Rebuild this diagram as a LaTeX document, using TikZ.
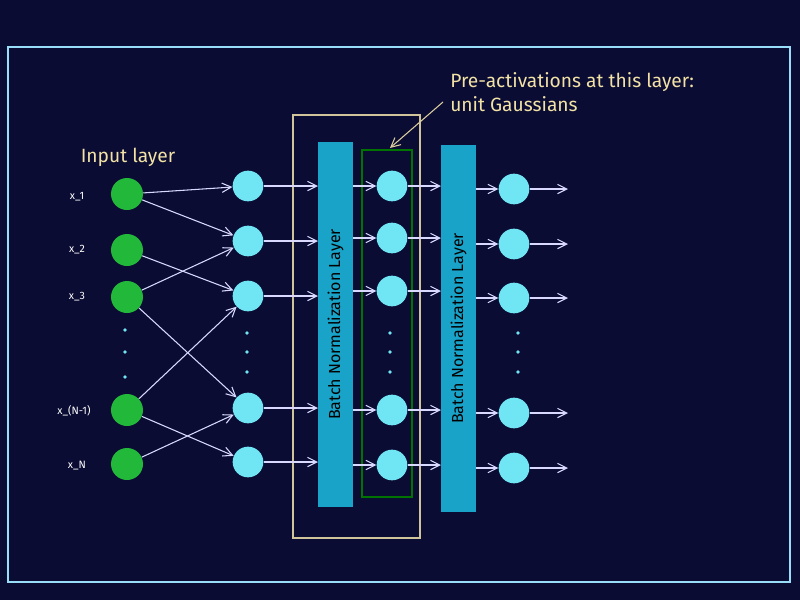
\documentclass[tikz,border=0pt]{standalone}
\usepackage{fontspec}
\setmainfont{Fira Sans}
\usetikzlibrary{arrows.meta}
\begin{document}
\begin{tikzpicture}[x=0.75pt,y=-0.75pt,
 inp/.style={circle,fill=gn,minimum size=24pt,inner sep=0pt},
 hid/.style={circle,fill=cy,minimum size=23pt,inner sep=0pt},
 arr/.style={-{Straight Barb[length=7pt,width=7pt]},draw=white!85!blue,line width=0.8pt},
 lab/.style={text=white,font=\footnotesize},
 dot/.style={circle,fill=cy,inner sep=1pt}]
\definecolor{bg}{HTML}{0A0C33}\definecolor{bnc}{HTML}{1AA3C8}\definecolor{ann}{HTML}{F2E2A6}
\definecolor{gn}{HTML}{22B83A}\definecolor{cy}{HTML}{70E6F5}
\fill[bg] (0,0) rectangle (800,600);
\draw[cyan!40!white,line width=1pt] (8,47) rectangle (790,582);
\draw[ann!70!gray,line width=0.8pt] (293,115) rectangle (420,538);
\draw[green!45!black,line width=0.8pt] (362,150) rectangle (412,497);
\fill[bnc] (318,142) rectangle (353,507);
\fill[bnc] (441,145) rectangle (476,512);
\node[rotate=90,font=\large] (b1) at (335.5,324.5) {Batch Normalization Layer};
\node[rotate=90,font=\large] (b2) at (458.5,328.5) {Batch Normalization Layer};
\foreach \n/\y in {1/194,2/250,3/297,4/410,5/464}{\node[inp] (x\n) at (127,\y) {};}
\foreach \n/\y in {1/186,2/241,3/296,4/408,5/462}{\node[hid] (h\n) at (248,\y) {}; \coordinate (p\n) at (318,\y);}
\foreach \n/\y in {1/186,2/238,3/291,4/410,5/465}{\node[hid] (m\n) at (392,\y) {}; \coordinate (q\n) at (353,\y); \coordinate (r\n) at (441,\y);}
\foreach \n/\y in {1/189,2/244,3/298,4/413,5/468}{\node[hid] (o\n) at (514,\y) {}; \coordinate (s\n) at (476,\y); \coordinate (e\n) at (568,\y);}
\foreach \y in {330,352,377}{\node[dot] (d1\y) at (125,\y) {};}
\foreach \y in {333,352,372}{\node[dot] (d2\y) at (247,\y) {}; \node[dot] (d3\y) at (390,\y) {}; \node[dot] (d4\y) at (518,\y) {};}
\node[lab] (l1) at (77,197) {x\_1};
\node[lab] (l2) at (77,250) {x\_2};
\node[lab] (l3) at (77,297) {x\_3};
\node[lab] (l4) at (74,411) {x\_(N-1)};
\node[lab] (l5) at (77,466) {x\_N};
\node[text=ann,font=\Large] (il) at (128,157) {Input layer};
\node[text=ann,font=\Large,align=left,anchor=north west,inner sep=0pt] (an) at (450,72) {Pre-activations at this layer:\\unit Gaussians};
\coordinate (ta) at (443,102);
\coordinate (tb) at (390,148);
\draw[arr,draw=ann!80!gray] (ta) -- (tb);
\foreach \a/\b in {x1/h1,x1/h2,x2/h3,x3/h2,x3/h4,x4/h3,x4/h5,x5/h4}{\draw[arr] (\a) -- (\b);}
\foreach \n in {1,...,5}{
 \draw[arr] (h\n) -- (p\n);
 \draw[arr] (q\n) -- (m\n);
 \draw[arr] (m\n) -- (r\n);
 \draw[arr] (s\n) -- (o\n);
 \draw[arr] (o\n) -- (e\n);}
\end{tikzpicture}
\end{document}
